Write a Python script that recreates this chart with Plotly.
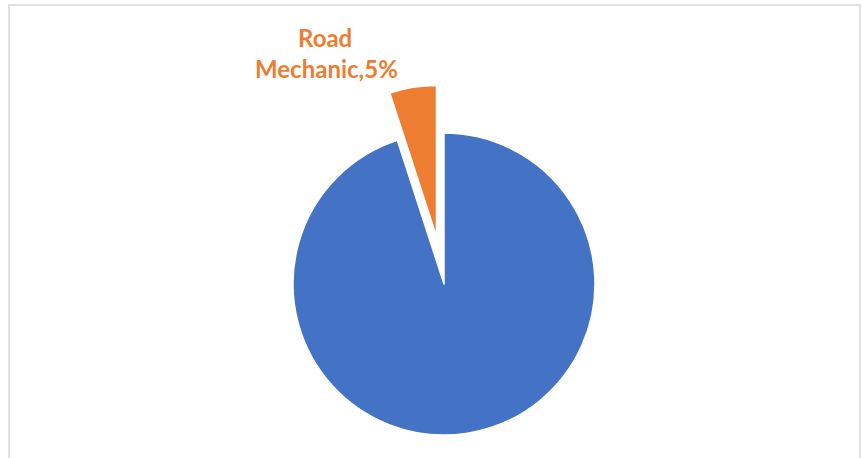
import math
import plotly.graph_objects as go

# Share of roles
labels = ["Other", "Road Mechanic"]
values = [95, 5]
colors = ["#4472C4", "#ED7D31"]
highlight = "Road Mechanic"

W, H = 862, 458
R = 151                      # pie radius in px
CX, CY = 444, 284            # pie centre (px from top-left)
PULL_PX = 48                 # offset of the highlighted slice

total = sum(values)
idx = labels.index(highlight)
pct = round(100 * values[idx] / total)

# bisector of the highlighted slice, clockwise from 12 o'clock
start = sum(values[:idx]) / total * 360
mid = math.radians(start + values[idx] / total * 180)
hx = CX + PULL_PX * math.sin(mid)
hy = CY - PULL_PX * math.cos(mid)


def domain(cx, cy):
    return dict(x=[(cx - R) / W, (cx + R) / W],
                y=[1 - (cy + R) / H, 1 - (cy - R) / H])


def slice_colors(show):
    return [c if (lab != highlight) == show else "rgba(0,0,0,0)"
            for lab, c in zip(labels, colors)]


def slice_lines(show):
    return [1.5 if (lab != highlight) == show else 0 for lab in labels]


fig = go.Figure()
# main body of the pie
fig.add_trace(go.Pie(
    labels=labels, values=values, sort=False, direction="clockwise",
    rotation=0, textinfo="none", hoverinfo="label+percent",
    marker=dict(colors=slice_colors(True),
                line=dict(color="white", width=slice_lines(True))),
    domain=domain(CX, CY), showlegend=False,
))
# exploded slice
fig.add_trace(go.Pie(
    labels=labels, values=values, sort=False, direction="clockwise",
    rotation=0, textinfo="none", hoverinfo="label+percent",
    marker=dict(colors=slice_colors(False),
                line=dict(color="white", width=slice_lines(False))),
    domain=domain(hx, hy), showlegend=False,
))

name_parts = highlight.split(" ")
label_font = dict(family="Lato", size=24, color="#ED7D31")
fig.add_annotation(text="<b>%s</b>" % name_parts[0], x=325 / W, y=1 - 38 / H,
                   xref="paper", yref="paper", showarrow=False,
                   font=label_font, xanchor="center", yanchor="middle")
fig.add_annotation(text="<b>%s,%d%%</b>" % (" ".join(name_parts[1:]), pct),
                   x=326 / W, y=1 - 69 / H,
                   xref="paper", yref="paper", showarrow=False,
                   font=label_font, xanchor="center", yanchor="middle")

# chart frame
fig.add_shape(type="rect", xref="paper", yref="paper",
              x0=9 / W, x1=860 / W, y0=-0.05, y1=1 - 5 / H,
              line=dict(color="#D9D9D9", width=1.5))

fig.update_layout(
    width=W, height=H, margin=dict(l=0, r=0, t=0, b=0),
    paper_bgcolor="white", plot_bgcolor="white",
)

fig.write_html("out.html")
